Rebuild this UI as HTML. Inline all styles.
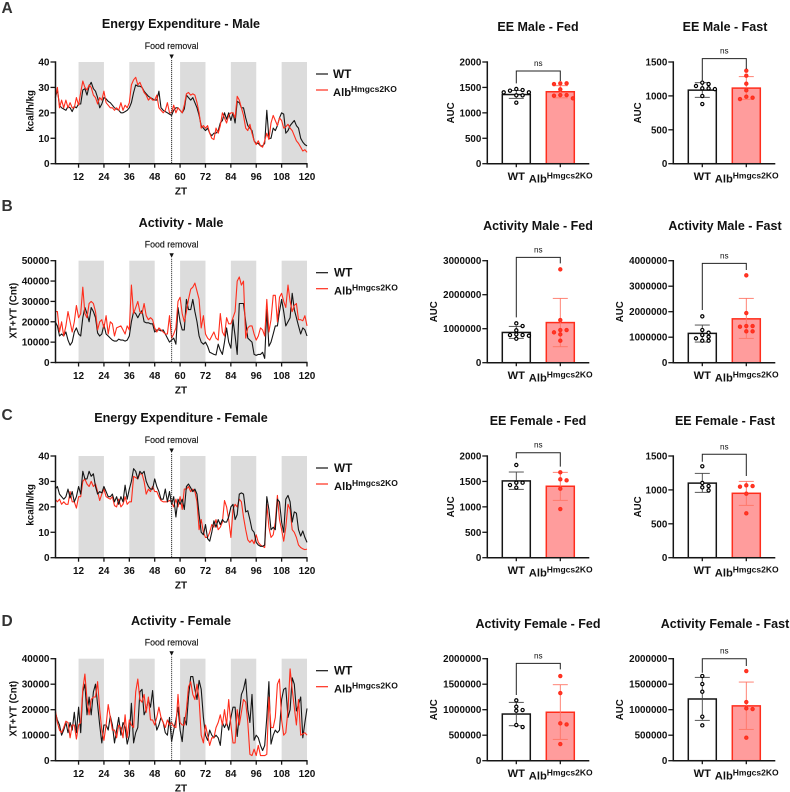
<!DOCTYPE html>
<html lang="en">
<head>
<meta charset="utf-8">
<title>Energy expenditure and activity panels</title>
<style>
html,body{margin:0;padding:0;background:#fff;width:790px;height:792px;overflow:hidden}
svg{display:block;filter:blur(0.3px)}
text{font-family:"Liberation Sans",Arial,sans-serif;fill:#111}
</style>
</head>
<body>
<svg id="fig" xmlns="http://www.w3.org/2000/svg" width="790" height="792" viewBox="0 0 790 792"></svg>
<script>
/* ---------- shared categories ---------- */
const groupLabels = ['WT', 'Alb'];
const koSuperscript = 'Hmgcs2KO';
const zeitgeberTicks = [12, 24, 36, 48, 60, 72, 84, 96, 108, 120];
const darkPhaseStarts = [12, 36, 60, 84, 108];
const foodRemovalHour = 56;

/* ---------- line series: one value per hour, ZT 1-120 ---------- */
const eeMaleWt = [26,29,23,22,21.5,21,22.5,22,20.5,22.5,22,23.5,
23.5,29,29.5,27,30.5,32,29.5,28.5,26,22,23.5,26,
25.5,24.5,24,23,22,21.5,21,20,20,20.5,21,22,
24,28,31,30.5,30.5,30,28.5,27.5,26.5,26,25.5,25,
25,28.5,22,21,20.5,20,19.5,19,21,22,22,21,
20,21.5,27,26,25,26,24,22,19,15,14,13,
14,12,11,12,12,13,16,17,20,17.5,20,17,
20,16,24.5,24,22,22,18,15,14,13,9,8,
8,7,7,8,21,10,10,14,13,15,18,20,
19.5,12,13,15,16,17,15,14,10,8.5,7.5,7];
const eeMaleKo = [26,30,22,25,22,25,22,24,22,22,26,23,
28,32.5,30,29,31,30,27,26,23.5,26,25,28.5,
24,23,22,22,21,22,21,24,21,23,22,24,
31,33,34,31,32,30,28,27,25,26,25,25,
27,22,21,20,21,24,20,20,23,20,22,21,
20,23,27.5,28,27,27.5,27,24,20,14,15,14,
15,12,10,9.5,14,12,15,20,18,16,19,20,
20,18,26.5,25,22,19,14,13,15.5,12,9,7.5,
9,7,6.5,9,12,9.5,16,19,17,15,18,17,
14,14.5,15.5,14,13,11,9,8,6.5,5,5.5,4.5];
const activityMaleWtK = [20,18,13,14,13,15,11,8.5,10,15,17,14,
13,22,27,24,20,27,25,22,14.5,13,14,18.5,
14,13,12,11,10.5,10.5,11.5,11,11,10.5,11,13,
20,25,24,22,24,25.5,20,19.5,19.5,19,19,15,
16,16,15.5,16,14,12,10,11,12,9,27,20,
16,16,31,26,26,31,25,20,13,10,9,10,
8,5,4.5,4,3.7,9,6,4,10,17,10,7,
21,13,4,29,29,29,20,12,11,10,4,3.5,
4,4,5,2,26,8,10,14,18,18,25,31,
25,18,20,22,34,26,22,18,14,17,16,13];
const activityMaleKoK = [25,25,15,20,13,18,25,20,15,20,28,22,
24,37,24,22,29,30,29,25,16,20,21,17,
23,14,20,19,13,17,17.5,18,16,14,18,16,
38,24,27,30,25,24,29,23,21,22,21,17,
15,17,16,15,14,14,23,12,14,17,30,32,
24,20,25,31,36,37,39,35,31,17,23,14,
12,11,13,15,12,11,24,15,13,22,19,19,
22,25,40,42,38,40,12,17,18,18,14,11,
13,17,16,13,31,15,21,33,33,20,32,34,
30,27,38,30,25,28,29,21,21,20.5,23,18];
const eeFemaleWt = [27,28,25,24,23,24,27,23.5,26,22,24,28,
25,34,31,31,34,32,33,28,25,26,25.5,28,
26,24,24,25,22,24,21,24,22,28.5,23,27,
30,35,34,31,34,33,34,30,28,27,27,31,
28,26,23,23,27,22,26,21,24,16,23,21,
23,19,28,29,27.5,26,27,25,17,10,9,13,
7.5,6.5,10,14.5,12,15,13,15,14,14,16,20,
21,15,17,25,25.5,25,18,18.5,15,11,10,6,
5,4.5,4.5,5,24,19,11,12,11,23,22,14,
10,23,24.5,22,14,18,17.5,11,8.5,10.5,8,6];
const eeFemaleKo = [23,22,23,21,22,21,21,26,22,22,19.5,24,
24,30,31,29,28,30,28,29,26,22.5,25,27,
24,23.5,23,24,20.5,20,23,20,21,24,21,22,
22,32,31.5,31,33,33,30,25,27,26,28,26,
26,24,22.5,22,22,22,22.5,22,20,23,20,24,
19,27,27,28,26,27,26,22,11,15,10,8,
8,10,13,12,15,11,12,14,22.5,20,15,8,
19,21,20,23,22,16,11,7,6,7,5.5,9,
6,5,4.5,4,21,12,8,9,14,24.5,15,11,
6.5,12,21,19,11,10,8,5,4,3.5,3.2,3.4];
const activityFemaleWtK = [19,16,14,10,12,15,11,15,12,19,11,21,
11,27,30,18,25,18,27,30,22,14,7,14,
14,12,17.5,14,7,12,17,10,15,13,6.5,10,
22.5,7,11,13,27,28,18,20,24,21,27.5,17,
12,14,17,15,11,10,17,7.5,12,16,21,12,
7.5,17,14,25,33,33,28,24,31.5,28,17,10,
8,12,10,9,10,9,6,15,13,15,12,17,
21,21,9.5,18,26,28,32,20,15,26,8,10,
9,6,4,6,17,31,6.5,10,12,11,12,24,
28,28.5,17,20,32.5,30,19.5,22,25,9,15,20.5];
const activityFemaleKoK = [20,15,12,11,13,15.5,15,9,14,14,8.5,14,
15,28,34,24,18,24,25,25,31,20,12,8,
14,22,17,12,12,9,14,13,9,18,9,16,
14,13,27,32,24,23,26,19,25,16,16,14,
17,21,17,15,13,16,14,15,13.5,13,26,15,
14,14,20,29,31,26,24,30,24,10,7,14,
10,6,9,9,13,15,18,14,20,14,24,14,
7,7,20,14,19,24,23,15,2.5,2,4.5,2,
6,2,2,2,2.5,25,13,13,17,30,32,16,
10,11,20,36,28,21,14,24,10,10.5,11,10];

/* ---------- line-chart axis labels ---------- */
const eeTickValues = [0, 10, 20, 30, 40];
const eeTickLabels = ['0', '10', '20', '30', '40'];
const activityMaleTickValues = [0, 10, 20, 30, 40, 50];
const activityMaleTickLabels = ['0', '10000', '20000', '30000', '40000', '50000'];
const activityFemaleTickValues = [0, 10, 20, 30, 40];
const activityFemaleTickLabels = ['0', '10000', '20000', '30000', '40000'];

/* ---------- bar chart values ---------- */
const eeFedTicks = [0, 500, 1000, 1500, 2000];
const eeFastTicks = [0, 500, 1000, 1500];
const actMaleFedTicks = [0, 1000000, 2000000, 3000000];
const actMaleFastTicks = [0, 1000000, 2000000, 3000000, 4000000];
const actFemaleTicks = [0, 500000, 1000000, 1500000, 2000000];

const eeMaleFedMeans = [1360, 1415];
const eeMaleFedErrors = [[1285, 1440], [1295, 1534]];
const eeMaleFedWtPoints = [1469, 1449, 1436, 1403, 1403, 1344, 1344, 1200];
const eeMaleFedKoPoints = [1580, 1580, 1567, 1462, 1350, 1350, 1337, 1285];
const eeMaleFedBracket = [1823, 1580, 1626];

const eeMaleFastMeans = [1085, 1115];
const eeMaleFastErrors = [[979, 1195], [950, 1284]];
const eeMaleFastWtPoints = [1195, 1175, 1146, 1111, 1111, 1100, 998, 880];
const eeMaleFastKoPoints = [1372, 1298, 1180, 1082, 988, 974, 954];
const eeMaleFastBracket = [1549, 1210, 1397];

const actMaleFedMeans = [890000, 1180000];
const actMaleFedErrors = [[716000, 1068000], [470000, 1892000]];
const actMaleFedWtPoints = [1157000, 1078000, 951000, 833000, 814000, 814000, 794000, 706000];
const actMaleFedKoPoints = [2745000, 1255000, 961000, 961000, 892000, 833000, 647000];
const actMaleFedBracket = [3098000, 1333000, 2922000];

const actMaleFastMeans = [1150000, 1720000];
const actMaleFastErrors = [[810000, 1477000], [954000, 2523000]];
const actMaleFastWtPoints = [1817000, 1281000, 1176000, 1085000, 1020000, 954000, 863000, 863000];
const actMaleFastKoPoints = [3425000, 1948000, 1438000, 1438000, 1412000, 1229000, 1229000];
const actMaleFastBracket = [3895000, 2065000, 3634000];

const eeFemaleFedMeans = [1510, 1405];
const eeFemaleFedErrors = [[1344, 1685], [1128, 1679]];
const eeFemaleFedWtPoints = [1823, 1475, 1475, 1429, 1377];
const eeFemaleFedKoPoints = [1679, 1541, 1521, 1357, 957];
const eeFemaleFedBracket = [2065, 1954, 1790];

const eeFemaleFastMeans = [1100, 950];
const eeFemaleFastErrors = [[964, 1244], [772, 1126]];
const eeFemaleFastWtPoints = [1348, 1102, 1057, 1038, 993];
const eeFemaleFastKoPoints = [1067, 1057, 1048, 944, 654];
const eeFemaleFastBracket = [1525, 1416, 1205];

const actFemaleFedMeans = [915000, 950000];
const actFemaleFedErrors = [[686000, 1144000], [418000, 1490000]];
const actFemaleFedWtPoints = [1183000, 1059000, 993000, 980000, 699000, 660000];
const actFemaleFedKoPoints = [1660000, 1327000, 732000, 712000, 327000];
const actFemaleFedBracket = [1908000, 1288000, 1791000];

const actFemaleFastMeans = [1210000, 1075000];
const actFemaleFastErrors = [[791000, 1634000], [614000, 1542000]];
const actFemaleFastWtPoints = [1660000, 1503000, 1353000, 863000, 693000];
const actFemaleFastKoPoints = [1758000, 1150000, 1026000, 1013000, 451000];
const actFemaleFastBracket = [2000000, 1725000, 1856000];

/* ---------- drawing ---------- */
const svg = document.getElementById('fig');
const NS = 'http://www.w3.org/2000/svg';
const BLACK = '#151515';
const RED = '#ff2d1c';

function make(parent, tag, attrs, label) {
  const n = document.createElementNS(NS, tag);
  for (const k in attrs) n.setAttribute(k, attrs[k]);
  
  
  parent.appendChild(n);
  return n;
}
function write(parent, str, x, y, size, weight, anchor, label, extra) {
  const a = Object.assign({x: x, y: y, 'font-size': size, 'font-weight': weight, 'text-anchor': anchor}, extra || {});
  const t = make(parent, 'text', a, label);
  t.textContent = str;
  return t;
}
function linear(d0, d1, r0, r1) {
  return v => r0 + (v - d0) * (r1 - r0) / (d1 - d0);
}

function drawLineChart(c) {
  const g = make(svg, 'g', {}, c.key + '-line-chart');
  const top = c.top, bottom = c.bottom;
  const xs = linear(1.1, 120, 55.5, 307);
  const ys = linear(0, c.yMax, bottom, top);
  write(g, c.title, c.titleX, c.titleY, 12.6, 'bold', 'middle', c.key + '-title');
  darkPhaseStarts.forEach(s => {
    make(g, 'rect', {x: xs(s), y: top, width: xs(s + 12) - xs(s), height: bottom - top, fill: '#dcdcdc'}, 'dark-phase-band-' + s);
  });
  const series = [[c.wt, BLACK, 'wt-line'], [c.ko, RED, 'ko-line']];
  const order = c.koFirst ? [series[1], series[0]] : series;
  order.forEach(s => {
    const pts = s[0].map((v, i) => xs(i + 1).toFixed(1) + ',' + ys(v).toFixed(1)).join(' ');
    make(g, 'polyline', {points: pts, fill: 'none', stroke: s[1], 'stroke-width': 1.1, 'stroke-linejoin': 'round'}, c.key + '-' + s[2]);
  });
  const fx = xs(foodRemovalHour);
  make(g, 'line', {x1: fx, x2: fx, y1: top - 2, y2: bottom, stroke: '#333', 'stroke-width': 1, 'stroke-dasharray': '1.2 0.8'}, 'food-removal-line');
  make(g, 'polygon', {points: (fx - 2.2) + ',' + (top - 7.5) + ' ' + (fx + 2.2) + ',' + (top - 7.5) + ' ' + fx + ',' + (top - 3), fill: '#111'}, 'food-removal-arrow');
  write(g, 'Food removal', fx, top - 13, 8.8, 'normal', 'middle', 'food-removal-label', {fill: '#222', stroke: '#222', 'stroke-width': 0.15});
  make(g, 'line', {x1: 55.5, x2: 55.5, y1: top - 0.7, y2: bottom + 0.7, stroke: BLACK, 'stroke-width': 1.5}, 'y-axis');
  make(g, 'line', {x1: 55, x2: 307.6, y1: bottom, y2: bottom, stroke: BLACK, 'stroke-width': 1.5}, 'x-axis');
  c.ticks.forEach((v, i) => {
    make(g, 'line', {x1: 50.5, x2: 55.5, y1: ys(v), y2: ys(v), stroke: BLACK, 'stroke-width': 1.3}, 'y-tick');
    write(g, c.tickLabels[i], 49.5, ys(v) + 3.5, 10, 'bold', 'end', 'y-tick-label');
  });
  zeitgeberTicks.forEach(v => {
    make(g, 'line', {x1: xs(v), x2: xs(v), y1: bottom, y2: bottom + 4, stroke: BLACK, 'stroke-width': 1.3}, 'x-tick');
    write(g, String(v), xs(v), bottom + 16.5, 10, 'bold', 'middle', 'x-tick-label');
  });
  write(g, 'ZT', 181, bottom + 31, 10, 'bold', 'middle', 'x-axis-title');
  const yl = (top + bottom) / 2 + c.titleShift;
  write(g, c.yTitle, c.yTitleX, yl, 9.7, 'bold', 'middle', 'y-axis-title', {transform: 'rotate(-90 ' + c.yTitleX + ' ' + yl + ')'});
  make(g, 'line', {x1: 316, x2: 328, y1: top + 12, y2: top + 12, stroke: BLACK, 'stroke-width': 1.2}, 'legend-wt-swatch');
  write(g, 'WT', c.legendX, top + 16, 11.8, 'bold', 'start', 'legend-wt-label');
  make(g, 'line', {x1: 316, x2: 328, y1: top + 28, y2: top + 28, stroke: RED, 'stroke-width': 1.2}, 'legend-ko-swatch');
  write(g, 'Alb', c.legendX, top + 34, 11.2, 'bold', 'start', 'legend-ko-label');
  write(g, koSuperscript, c.legendX + 18, top + 30, 8.5, 'bold', 'start', 'legend-ko-superscript');
}

function swarm(values, scale) {
  const placed = [];
  values.slice().sort((a, b) => b - a).forEach(v => {
    const py = scale(v);
    const candidates = [0, 6.3, -6.3, 12.6, -12.6];
    let off = 0;
    for (const cand of candidates) {
      off = cand;
      if (!placed.some(p => Math.hypot(p.off - cand, p.py - py) < 3.4)) break;
    }
    placed.push({off: off, py: py});
  });
  return placed;
}

function drawBarChart(c) {
  const g = make(svg, 'g', {}, c.key + '-bar-chart');
  const ax = c.axisX, top = c.top, bottom = c.bottom;
  const ys = linear(0, c.yMax, bottom, top);
  const cx = [ax + 29, ax + 73];
  write(g, c.title, c.titleX, c.titleY, 12.5, 'bold', 'middle', c.key + '-title');
  [0, 1].forEach(i => {
    const isKo = i === 1;
    const stroke = isKo ? RED : BLACK;
    const barName = isKo ? 'bar-ko' : 'bar-wt';
    make(g, 'rect', {x: cx[i] - 14, y: ys(c.means[i]), width: 28, height: bottom - ys(c.means[i]), fill: isKo ? '#ff9c9c' : '#fff', stroke: stroke, 'stroke-width': 1.5}, barName);
    const errColor = isKo ? '#ff7566' : '#444';
    const lo = ys(c.errors[i][0]), hi = ys(c.errors[i][1]);
    make(g, 'line', {x1: cx[i], x2: cx[i], y1: lo, y2: hi, stroke: errColor, 'stroke-width': 0.9}, 'error-bar');
    make(g, 'line', {x1: cx[i] - 7.5, x2: cx[i] + 7.5, y1: lo, y2: lo, stroke: errColor, 'stroke-width': 0.9}, 'error-cap-low');
    make(g, 'line', {x1: cx[i] - 7.5, x2: cx[i] + 7.5, y1: hi, y2: hi, stroke: errColor, 'stroke-width': 0.9}, 'error-cap-high');
    const vals = isKo ? c.koPoints : c.wtPoints;
    swarm(vals, ys).forEach(p => {
      make(g, 'circle', {cx: cx[i] + p.off, cy: p.py, r: 1.6, fill: isKo ? '#ff3a2a' : '#fff', stroke: isKo ? RED : '#000', 'stroke-width': 1.2}, isKo ? 'point-ko' : 'point-wt');
    });
  });
  make(g, 'line', {x1: ax, x2: ax, y1: top - 0.7, y2: bottom + 0.7, stroke: BLACK, 'stroke-width': 1.5}, 'y-axis');
  make(g, 'line', {x1: ax - 0.6, x2: ax + 102, y1: bottom, y2: bottom, stroke: BLACK, 'stroke-width': 1.5}, 'x-axis');
  c.ticks.forEach(v => {
    make(g, 'line', {x1: ax - 5, x2: ax, y1: ys(v), y2: ys(v), stroke: BLACK, 'stroke-width': 1.3}, 'y-tick');
    write(g, String(v), ax - 6, ys(v) + 3.5, 9.8, 'bold', 'end', 'y-tick-label');
  });
  cx.forEach(x => {
    make(g, 'line', {x1: x, x2: x, y1: bottom, y2: bottom + 3.5, stroke: BLACK, 'stroke-width': 1.3}, 'x-tick');
  });
  write(g, groupLabels[0], cx[0], bottom + 16.5, 11.1, 'bold', 'middle', 'x-label-wt');
  write(g, groupLabels[1], ax + 41.5, bottom + 19, 11.2, 'bold', 'start', 'x-label-ko');
  write(g, koSuperscript, ax + 59.5, bottom + 15, 8.5, 'bold', 'start', 'x-label-ko-superscript');
  const yl = (top + bottom) / 2;
  write(g, 'AUC', c.auc, yl, 9.7, 'bold', 'middle', 'y-axis-title', {transform: 'rotate(-90 ' + c.auc + ' ' + yl + ')'});
  const b = c.bracket;
  const path = 'M' + cx[0] + ' ' + ys(b[1]) + 'V' + ys(b[0]) + 'H' + cx[1] + 'V' + ys(b[2]);
  make(g, 'path', {d: path, fill: 'none', stroke: '#222', 'stroke-width': 1}, 'significance-bracket');
  write(g, 'ns', (cx[0] + cx[1]) / 2, ys(b[0]) - 5, 8.2, 'normal', 'middle', 'significance-label', {fill: '#555'});
}

/* panel letters */
const letters = [['A', 13], ['B', 211], ['C', 420], ['D', 626]];
letters.forEach(l => {
  const t = write(svg, l[0], 1.5, l[1], 15.5, 'bold', 'start', 'panel-letter-' + l[0].toLowerCase());
  t.style.fill = '#333';
});

/* line charts */
drawLineChart({key: 'ee-male', title: 'Energy Expenditure - Male', titleX: 181, titleY: 28, top: 62, bottom: 163.7, yMax: 40, wt: eeMaleWt, ko: eeMaleKo, ticks: eeTickValues, tickLabels: eeTickLabels, yTitle: 'kcal/h/kg', yTitleX: 33.5, titleShift: -2, legendX: 333});
drawLineChart({key: 'activity-male', title: 'Activity - Male', titleX: 181, titleY: 227, top: 260.7, bottom: 362.5, yMax: 50, wt: activityMaleWtK, ko: activityMaleKoK, ticks: activityMaleTickValues, tickLabels: activityMaleTickLabels, yTitle: 'XT+YT (Cnt)', yTitleX: 16.5, titleShift: -1, legendX: 334, koFirst: false});
drawLineChart({key: 'ee-female', title: 'Energy Expenditure - Female', titleX: 181, titleY: 422, top: 456, bottom: 557.7, yMax: 40, wt: eeFemaleWt, ko: eeFemaleKo, ticks: eeTickValues, tickLabels: eeTickLabels, yTitle: 'kcal/h/kg', yTitleX: 33.5, titleShift: -2, legendX: 334, koFirst: true});
drawLineChart({key: 'activity-female', title: 'Activity - Female', titleX: 181, titleY: 625, top: 658.7, bottom: 760.7, yMax: 40, wt: activityFemaleWtK, ko: activityFemaleKoK, ticks: activityFemaleTickValues, tickLabels: activityFemaleTickLabels, yTitle: 'XT+YT (Cnt)', yTitleX: 16.5, titleShift: -1, legendX: 334});

/* bar charts */
drawBarChart({key: 'ee-male-fed', title: 'EE Male - Fed', titleX: 538, titleY: 31, axisX: 487.3, top: 62, bottom: 163.7, yMax: 2000, ticks: eeFedTicks, means: eeMaleFedMeans, errors: eeMaleFedErrors, wtPoints: eeMaleFedWtPoints, koPoints: eeMaleFedKoPoints, bracket: eeMaleFedBracket, auc: 454});
drawBarChart({key: 'ee-male-fast', title: 'EE Male - Fast', titleX: 725, titleY: 31, axisX: 673.3, top: 62, bottom: 163.7, yMax: 1500, ticks: eeFastTicks, means: eeMaleFastMeans, errors: eeMaleFastErrors, wtPoints: eeMaleFastWtPoints, koPoints: eeMaleFastKoPoints, bracket: eeMaleFastBracket, auc: 641});
drawBarChart({key: 'activity-male-fed', title: 'Activity Male - Fed', titleX: 538, titleY: 230, axisX: 487.3, top: 260.7, bottom: 362.7, yMax: 3000000, ticks: actMaleFedTicks, means: actMaleFedMeans, errors: actMaleFedErrors, wtPoints: actMaleFedWtPoints, koPoints: actMaleFedKoPoints, bracket: actMaleFedBracket, auc: 437});
drawBarChart({key: 'activity-male-fast', title: 'Activity Male - Fast', titleX: 725, titleY: 230, axisX: 673.3, top: 260.7, bottom: 362.7, yMax: 4000000, ticks: actMaleFastTicks, means: actMaleFastMeans, errors: actMaleFastErrors, wtPoints: actMaleFastWtPoints, koPoints: actMaleFastKoPoints, bracket: actMaleFastBracket, auc: 623});
drawBarChart({key: 'ee-female-fed', title: 'EE Female - Fed', titleX: 538, titleY: 425, axisX: 487.3, top: 456, bottom: 557.7, yMax: 2000, ticks: eeFedTicks, means: eeFemaleFedMeans, errors: eeFemaleFedErrors, wtPoints: eeFemaleFedWtPoints, koPoints: eeFemaleFedKoPoints, bracket: eeFemaleFedBracket, auc: 454});
drawBarChart({key: 'ee-female-fast', title: 'EE Female - Fast', titleX: 725, titleY: 425, axisX: 673.3, top: 456, bottom: 557.7, yMax: 1500, ticks: eeFastTicks, means: eeFemaleFastMeans, errors: eeFemaleFastErrors, wtPoints: eeFemaleFastWtPoints, koPoints: eeFemaleFastKoPoints, bracket: eeFemaleFastBracket, auc: 641});
drawBarChart({key: 'activity-female-fed', title: 'Activity Female - Fed', titleX: 538, titleY: 628, axisX: 487.3, top: 658.7, bottom: 760.7, yMax: 2000000, ticks: actFemaleTicks, means: actFemaleFedMeans, errors: actFemaleFedErrors, wtPoints: actFemaleFedWtPoints, koPoints: actFemaleFedKoPoints, bracket: actFemaleFedBracket, auc: 437});
drawBarChart({key: 'activity-female-fast', title: 'Activity Female - Fast', titleX: 725, titleY: 628, axisX: 673.3, top: 658.7, bottom: 760.7, yMax: 2000000, ticks: actFemaleTicks, means: actFemaleFastMeans, errors: actFemaleFastErrors, wtPoints: actFemaleFastWtPoints, koPoints: actFemaleFastKoPoints, bracket: actFemaleFastBracket, auc: 623});
</script>
</body>
</html>
